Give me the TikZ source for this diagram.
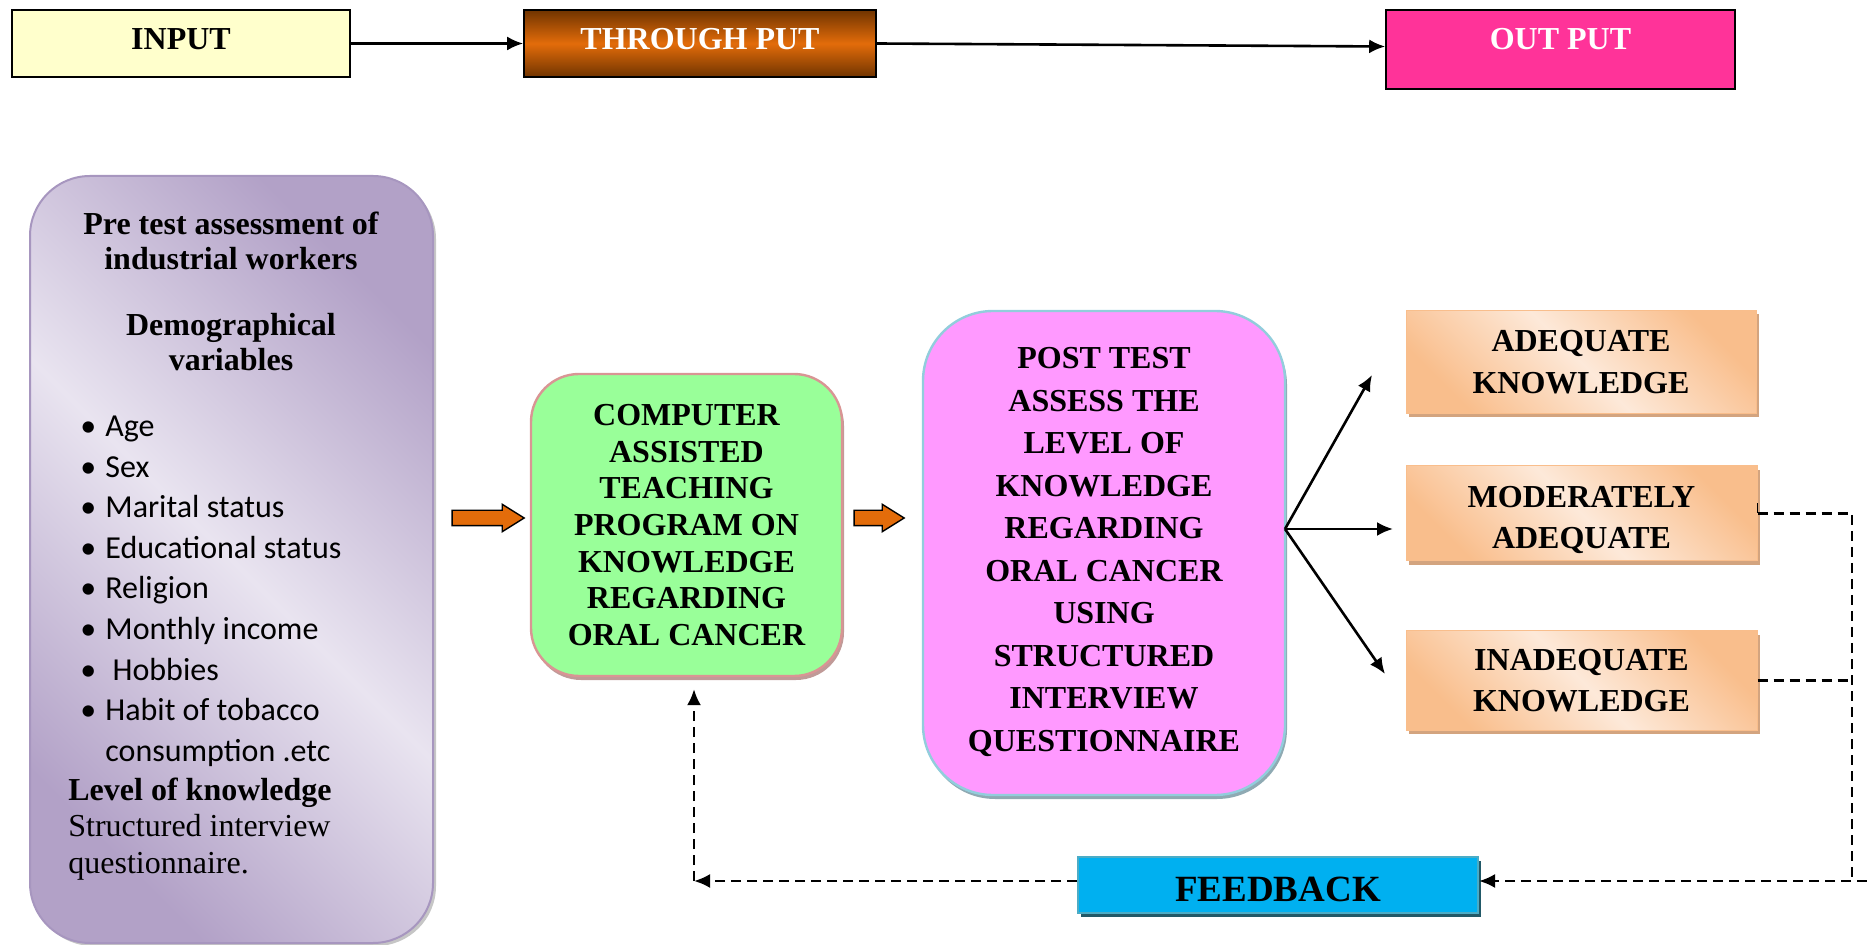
\documentclass[tikz,border=0pt]{standalone}
\usepackage{fontspec}
\setmainfont{Liberation Serif}
\newfontfamily\calibrifont{Carlito}
\usetikzlibrary{arrows.meta,shapes.arrows,shadows}

\definecolor{inputyellow}{HTML}{FFFFCC}
\definecolor{thrudark}{HTML}{703400}
\definecolor{thruorange}{HTML}{E36C0A}
\definecolor{outpink}{HTML}{FF3399}
\definecolor{lildark}{HTML}{B2A1C7}
\definecolor{lillight}{HTML}{E9E4F0}
\definecolor{lilborder}{HTML}{A796BF}
\definecolor{catgreen}{HTML}{99FF99}
\definecolor{catborder}{HTML}{D99594}
\definecolor{catshadow}{HTML}{C09A98}
\definecolor{postpink}{HTML}{FF99FF}
\definecolor{postborder}{HTML}{92CDDC}
\definecolor{postshadow}{HTML}{8FAAB3}
\definecolor{kdark}{HTML}{F9BE8C}
\definecolor{klight}{HTML}{FDE9D9}
\definecolor{kshadow}{HTML}{D3A47F}
\definecolor{fbblue}{HTML}{00B0F0}
\definecolor{fbborder}{HTML}{4BACC6}
\definecolor{fbshadow}{HTML}{215968}

\begin{document}
\begin{tikzpicture}[x=0.5pt,y=-0.5pt,
  topbox/.style={draw=black, line width=0.8pt, text depth=4.5pt,
    font=\fontsize{16}{19}\selectfont\bfseries},
  kbox/.style={draw=kdark, line width=0.5pt, left color=kdark, right color=kdark,
    middle color=klight, shading angle=135, align=center,
    drop shadow={shadow xshift=1.5pt, shadow yshift=-2pt, fill=kshadow, opacity=1},
    font=\fontsize{16}{20.8}\selectfont\bfseries},
  fatarrow/.style={single arrow, draw=black, line width=0.7pt, fill=thruorange, inner xsep=0pt,
    inner ysep=3.5pt, single arrow head extend=3pt, single arrow tip angle=64},
  pretext/.style={anchor=base, inner sep=0pt, font=\fontsize{16}{19}\selectfont\bfseries},
  varitem/.style={anchor=base west, inner sep=0pt, font=\calibrifont\fontsize{16}{19}\selectfont},
  link/.style={line width=1.3pt, -{Latex[length=8pt,width=7pt]}},
  fbline/.style={line width=1.2pt, dash pattern=on 5pt off 3pt}]
\useasboundingbox (0,0) rectangle (1867,945);

% top row
\node[topbox, fill=inputyellow, minimum width=169pt, minimum height=33.5pt] (input) at (181,43.5) {INPUT};
\node[topbox, top color=thrudark, bottom color=thrudark, middle color=thruorange, text=white,
  minimum width=176pt, minimum height=33.5pt] (thru) at (700,43.5) {THROUGH PUT};
\node[topbox, fill=outpink, text=white, text depth=10.5pt, minimum width=174.5pt,
  minimum height=39.5pt] (output) at (1560.5,49.5) {OUT PUT};
\draw[link] (input) -- (thru);
\draw[link] (thru.east) -- ([yshift=1.5pt]output.west);

% pre test box
\node[draw=lilborder, line width=1pt, rounded corners=30pt, left color=lildark, right color=lildark,
  middle color=lillight, shading angle=135, minimum width=201.5pt, minimum height=383.5pt,
  drop shadow={shadow xshift=1.5pt, shadow yshift=-1.5pt, fill=gray!45, opacity=1}]
  (pre) at (231.5,559.5) {};
\node[pretext] (pre1) at (231,234.6) {Pre test assessment of};
\node[pretext] (pre2) at (231,270) {industrial workers};
\node[pretext] (demo1) at (231,336) {Demographical};
\node[pretext] (demo2) at (231,371) {variables};
\node[varitem] (age) at (80,437) {\makebox[12.5pt][l]{•}Age};
\node[varitem] (sex) at (80,477.5) {\makebox[12.5pt][l]{•}Sex};
\node[varitem] (marital) at (80,518) {\makebox[12.5pt][l]{•}Marital status};
\node[varitem] (edu) at (80,558.5) {\makebox[12.5pt][l]{•}Educational status};
\node[varitem] (religion) at (80,599) {\makebox[12.5pt][l]{•}Religion};
\node[varitem] (income) at (80,639.5) {\makebox[12.5pt][l]{•}Monthly income};
\node[varitem] (hobby) at (80,680) {\makebox[12.5pt][l]{•}\ Hobbies};
\node[varitem] (habit) at (80,720) {\makebox[12.5pt][l]{•}Habit of tobacco};
\node[varitem] (consume) at (105,761) {consumption .etc};
\node[pretext, anchor=base west] (level) at (68,800) {Level of knowledge};
\node[pretext, anchor=base west, font=\fontsize{16}{19}\selectfont] (sir1) at (68,836) {Structured interview};
\node[pretext, anchor=base west, font=\fontsize{16}{19}\selectfont] (sir2) at (68,873) {questionnaire.};

% teaching program
\node[fill=catgreen, draw=catborder, line width=1.2pt, rounded corners=24pt,
  minimum width=155.5pt, minimum height=151pt, align=center,
  drop shadow={shadow xshift=1pt, shadow yshift=-2pt, fill=catshadow, opacity=1},
  font=\fontsize{16}{18.3}\selectfont\bfseries]
  (cat) at (686.5,525) {COMPUTER\\ASSISTED\\TEACHING\\PROGRAM ON\\KNOWLEDGE\\REGARDING\\ORAL CANCER};

% post test
\node[fill=postpink, draw=postborder, line width=1.2pt, rounded corners=35pt,
  minimum width=181pt, minimum height=242pt, align=center,
  drop shadow={shadow xshift=1pt, shadow yshift=-2pt, fill=postshadow, opacity=1},
  font=\fontsize{16}{21.25}\selectfont\bfseries]
  (post) at (1104,553) {POST TEST\\ASSESS THE\\LEVEL OF\\KNOWLEDGE\\REGARDING\\ORAL CANCER\\USING\\STRUCTURED\\INTERVIEW\\QUESTIONNAIRE\rule[-3.5pt]{0pt}{0pt}};

\node[fatarrow, minimum height=36pt] (ar1) at (482,518) {};
\node[fatarrow, minimum height=25pt] (ar2) at (873,518) {};

% outcome boxes
\node[kbox, minimum width=175pt, minimum height=51.5pt] (adq) at (1581,362) {ADEQUATE\\KNOWLEDGE};
\node[kbox, minimum width=175.5pt, minimum height=47.5pt] (mod) at (1581.5,513.5) {\rule{0pt}{17pt}MODERATELY\\ADEQUATE};
\node[kbox, minimum width=175.5pt, minimum height=49.5pt] (inad) at (1581.5,680.5) {INADEQUATE\\KNOWLEDGE};

\coordinate (fan) at (1285,529);
\coordinate (tadq) at (1372,375);
\coordinate (tmod) at (1393,529);
\coordinate (tinad) at (1385,674);
\draw[link] (fan) -- (tadq);
\draw[link] (fan) -- (tmod);
\draw[link] (fan) -- (tinad);

% feedback loop
\node[fill=fbblue, draw=fbborder, line width=1pt, minimum width=200pt, minimum height=28pt,
  text height=17pt, drop shadow={shadow xshift=1.5pt, shadow yshift=-2pt, fill=fbshadow, opacity=1},
  font=\fontsize{18.5}{22}\selectfont\bfseries]
  (feed) at (1278,885) {FEEDBACK};
\coordinate (rt) at (1852,881);
\coordinate (edge) at (1867,881);
\draw[line width=0.9pt] ([yshift=5pt]mod.east) -- (mod.east);
\draw[fbline] (mod.east) -| (rt);
\draw[fbline] (inad.east) -- (inad.east -| rt);
\draw[fbline, -{Latex[length=8pt,width=7pt]}] (edge) -- (feed.east |- edge);
\draw[fbline, -{Latex[length=8pt,width=7pt]}] (feed.west |- edge) -- ([xshift=3.75pt]cat.south |- edge) coordinate (cor);
\draw[fbline, -{Latex[length=8pt,width=7pt]}] (cor) -- ([yshift=-6pt]cor |- cat.south);
\end{tikzpicture}
\end{document}
